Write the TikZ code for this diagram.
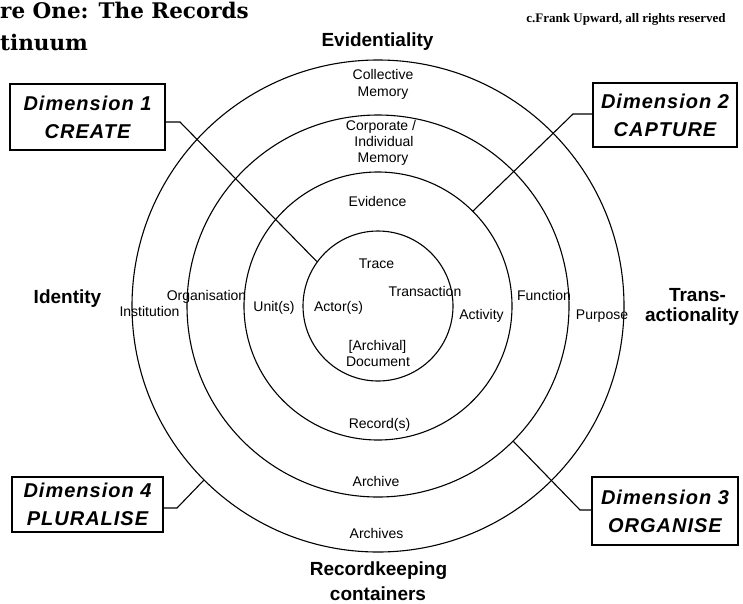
\documentclass[tikz,border=0pt]{standalone}
\usepackage{fontspec}
\setmainfont{Liberation Sans}
\newfontfamily\titlefont{DejaVu Serif}
\newfontfamily\copyfont{Liberation Serif}
\newfontfamily\dimfont[LetterSpace=5]{Liberation Sans}
\usetikzlibrary{calc}
\tikzset{
  ring/.style={circle,draw,line width=1.1pt,minimum size=#1,inner sep=0pt},
  lab/.style={anchor=base,inner sep=0pt,font=\fontsize{14}{16}\selectfont},
  biglab/.style={anchor=base,inner sep=0pt,font=\fontsize{19}{22}\selectfont\bfseries},
  dimbox/.style={draw,line width=1.2pt,align=center,inner sep=0pt,
    font=\dimfont\fontsize{20}{28}\selectfont\bfseries\itshape},
  conn/.style={line width=1.1pt},
  titletext/.style={anchor=base west,inner sep=0pt,font=\titlefont\bfseries\fontsize{21.5}{24}\selectfont}
}
\begin{document}
\begin{tikzpicture}[x=1pt,y=-1pt]
\useasboundingbox (0,0) rectangle (743,603);
% title and copyright
\node[titletext] (title1) at (0,18.3) {re One: The Records};
\node[titletext] (title2) at (0,50) {tinuum};
\node[anchor=base,inner sep=0pt,font=\copyfont\bfseries\fontsize{13}{15}\selectfont] (copy) at (626,22.7) {c.Frank Upward, all rights reserved};
% rings
\node[ring=150pt] (r1) at (378,306) {};
\node[ring=268pt] (r2) at (378,306) {};
\node[ring=382pt] (r3) at (378,306) {};
\node[ring=492pt] (r4) at (378,306) {};
% axis labels
\node[biglab] (evid) at (377.5,46.7) {Evidentiality};
\node[biglab] (ident) at (67.5,303) {Identity};
\node[biglab] (trans1) at (697.5,301.5) {Trans-};
\node[biglab] (trans2) at (692,321) {actionality};
\node[biglab] (rk1) at (378.5,575) {Recordkeeping};
\node[biglab] (rk2) at (378,600) {containers};
% ring labels
\node[lab] (coll1) at (383,79.5) {Collective};
\node[lab] (coll2) at (383,96) {Memory};
\node[lab] (corp1) at (381,130) {Corporate /};
\node[lab] (corp2) at (384,146.7) {Individual};
\node[lab] (corp3) at (383,162.7) {Memory};
\node[lab] (evi) at (377.5,206) {Evidence};
\node[lab] (trace) at (376.5,268) {Trace};
\node[lab] (transac) at (425,296.7) {Transaction};
\node[lab] (actor) at (338.5,311.5) {Actor(s)};
\node[lab] (unit) at (274,311) {Unit(s)};
\node[lab] (activ) at (481.5,319) {Activity};
\node[lab] (arch1) at (377.5,350.5) {[Archival]};
\node[lab] (arch2) at (378,366) {Document};
\node[lab] (inst) at (149.5,316.7) {Institution};
\node[lab] (org) at (206.5,300.7) {Organisation};
\node[lab] (func) at (544,300) {Function};
\node[lab] (purp) at (602,319) {Purpose};
\node[lab] (rec) at (379.5,428.3) {Record(s)};
\node[lab] (archive) at (376,486.7) {Archive};
\node[lab] (archives) at (376.5,538.3) {Archives};
% dimension boxes
\node[dimbox,minimum width=155pt,minimum height=66pt] (d1) at (87.5,117) {Dimension 1\\CREATE};
\node[dimbox,minimum width=144pt,minimum height=64pt] (d2) at (665,115) {Dimension 2\\CAPTURE};
\node[dimbox,minimum width=146pt,minimum height=68pt] (d3) at (665,511) {Dimension 3\\ORGANISE};
\node[dimbox,minimum width=151pt,minimum height=55pt] (d4) at (87.5,504.5) {Dimension 4\\PLURALISE};
% connectors
\coordinate (k1) at (180,122);
\coordinate (k2) at (573,114);
\coordinate (k3) at (580,510);
\coordinate (k4) at (177,508);
\draw[conn] (d1.east |- k1) -- (k1) -- (r1.144);
\draw[conn] (d2.west |- k2) -- (k2) -- (r2.45);
\draw[conn] (d3.west |- k3) -- (k3) -- (r3.-45);
\draw[conn] (d4.east |- k4) -- (k4) -- (r4.225);
\end{tikzpicture}
\end{document}
